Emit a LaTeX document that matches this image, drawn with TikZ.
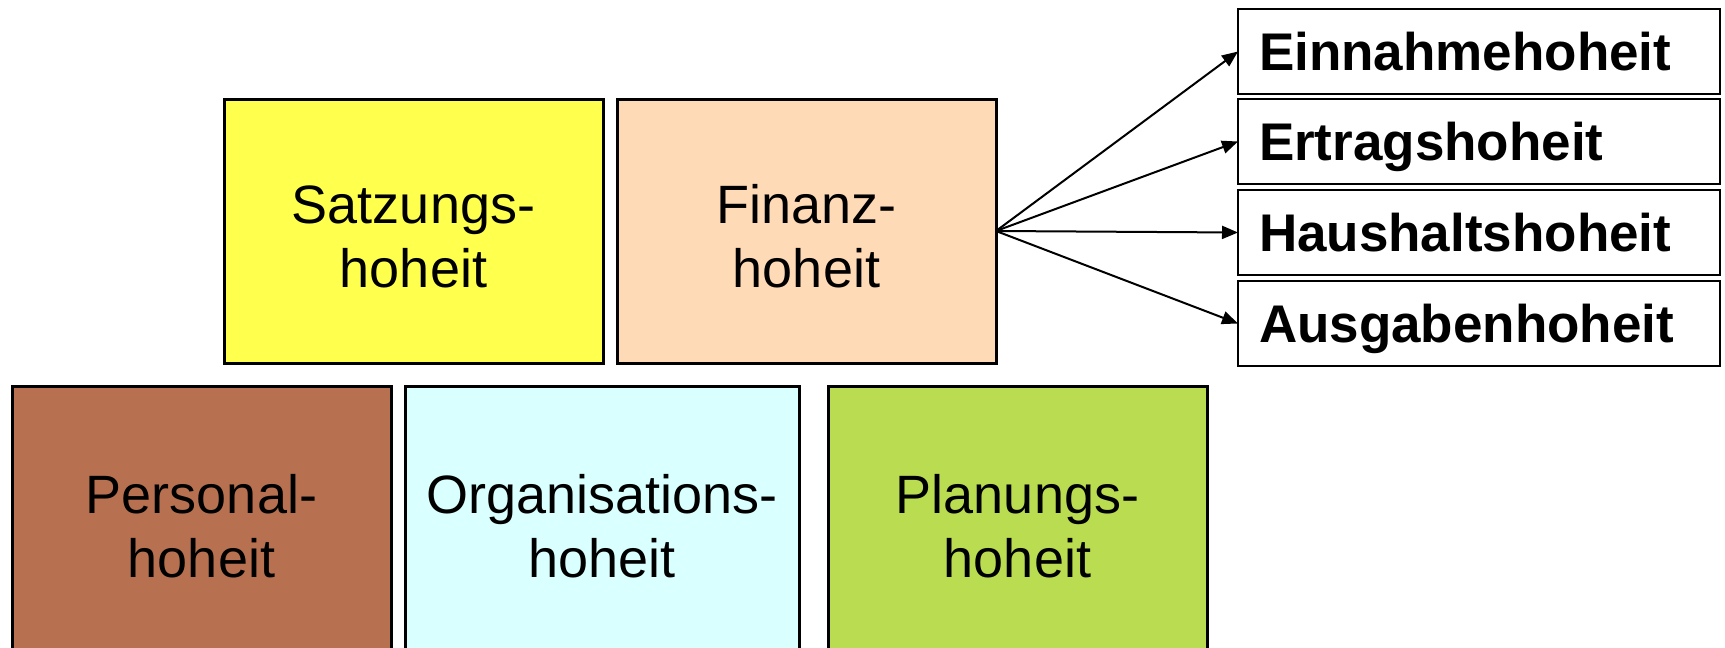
\documentclass[tikz,border=0pt]{standalone}
\usepackage{fontspec}
\setmainfont{Liberation Sans}
\usetikzlibrary{arrows.meta}
\definecolor{cyel}{RGB}{255,255,77}
\definecolor{cpeach}{RGB}{255,218,182}
\definecolor{cbrown}{RGB}{183,113,80}
\definecolor{ccyan}{RGB}{217,255,255}
\definecolor{cgreen}{RGB}{185,220,80}
\begin{document}
\begin{tikzpicture}[x=1pt,y=-1pt,
  bigbox/.style={draw=black,line width=3pt,minimum width=379pt,inner sep=0pt,outer sep=0pt},
  lbl/.style={align=center,inner sep=0pt,font=\fontsize{54}{64}\selectfont},
  smallbox/.style={draw=black,line width=2.5pt,minimum width=482pt,minimum height=85pt,
    text width=440pt,inner xsep=21pt,inner ysep=0pt,outer sep=0pt,align=left,
    text height=38pt,text depth=0pt,font=\fontsize{53}{62}\selectfont\bfseries},
  arr/.style={line width=2pt,-{Stealth[length=16pt,width=13pt,inset=0pt]}}]
\useasboundingbox (0,0) rectangle (1725,648);
\clip (0,0) rectangle (1725,648);
% upper boxes
\node[bigbox,fill=cyel,minimum height=264pt] (satz) at (413.5,231) {};
\node[lbl] (satzT) at ([yshift=-5.5pt]satz.center) {Satzungs-\\hoheit};
\node[bigbox,fill=cpeach,minimum height=264pt] (fin) at (806.5,231) {};
\node[lbl] (finT) at ([yshift=-5.5pt]fin.center) {Finanz-\\hoheit};
% lower boxes
\node[bigbox,fill=cbrown,minimum height=300pt] (pers) at (201.5,536) {};
\node[lbl] (persT) at (201.5,526.5) {Personal-\\hoheit};
\node[bigbox,fill=ccyan,minimum width=394pt,minimum height=300pt] (org) at (602,536) {};
\node[lbl] (orgT) at (602,526.5) {Organisations-\\hoheit};
\node[bigbox,fill=cgreen,minimum height=300pt] (plan) at (1017.5,536) {};
\node[lbl] (planT) at (1017.5,526.5) {Planungs-\\hoheit};
% right boxes
\node[smallbox] (ein) at (1479,51.5) {Einnahmehoheit};
\node[smallbox] (ert) at (1479,141.5) {Ertragshoheit};
\node[smallbox] (hau) at (1479,232.5) {Haushaltshoheit};
\node[smallbox] (aus) at (1479,323.5) {Ausgabenhoheit};
% arrows
\coordinate (src) at (996,231);
\draw[arr] (src) -- (ein.west);
\draw[arr] (src) -- (ert.west);
\draw[arr] (src) -- (hau.west);
\draw[arr] (src) -- (aus.west);
\end{tikzpicture}
\end{document}
